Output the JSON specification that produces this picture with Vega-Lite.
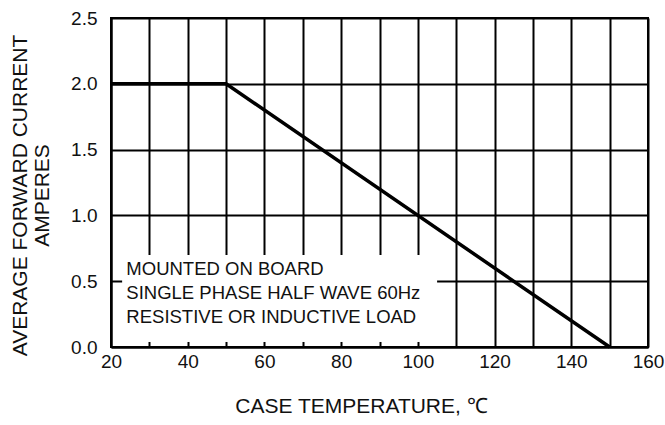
{
  "$schema": "https://vega.github.io/schema/vega-lite/v6.json",
  "width": 537,
  "height": 329,
  "autosize": "none",
  "padding": {"left": 111, "top": 18, "right": 17, "bottom": 78},
  "background": "white",
  "config": {
    "font": "Liberation Sans",
    "view": {"stroke": "black", "strokeWidth": 2},
    "axis": {
      "domainColor": "black", "domainWidth": 2,
      "gridColor": "black", "gridWidth": 2, "gridOpacity": 1,
      "ticks": false, "labelFlush": false,
      "labelFont": "Liberation Sans", "labelFontSize": 19, "labelColor": "#111",
      "titleFont": "Liberation Sans", "titleFontSize": 21, "titleFontWeight": "normal", "titleColor": "#111"
    }
  },
  "data": {"values": [
    {"temp": 20, "amps": 2.0},
    {"temp": 50, "amps": 2.0},
    {"temp": 150, "amps": 0.0}
  ]},
  "layer": [
    {
      "mark": {"type": "line", "color": "black", "strokeWidth": 3.5},
      "encoding": {
        "x": {"field": "temp", "type": "quantitative",
          "scale": {"domain": [20, 160], "nice": false},
          "axis": {"values": [20,30,40,50,60,70,80,90,100,110,120,130,140,150,160],
            "labelExpr": "datum.value % 20 === 0 ? datum.label : ''",
            "labelPadding": 5, "title": "CASE TEMPERATURE, ℃", "titlePadding": 24, "titleX": 250}},
        "y": {"field": "amps", "type": "quantitative",
          "scale": {"domain": [0, 2.5], "nice": false},
          "axis": {"values": [0, 0.5, 1.0, 1.5, 2.0, 2.5], "format": ".1f",
            "labelPadding": 14,
            "title": ["AVERAGE FORWARD CURRENT", "AMPERES"], "titlePadding": 18, "titleLineHeight": 22, "titleY": 177}}
      }
    },
    {
      "mark": {"type": "rect", "fill": "white", "stroke": null},
      "encoding": {
        "x": {"datum": 23, "type": "quantitative",
          "axis": {"values": [20,30,40,50,60,70,80,90,100,110,120,130,140,150,160],
            "labelExpr": "datum.value % 20 === 0 ? datum.label : ''",
            "labelPadding": 5, "title": "CASE TEMPERATURE, ℃", "titlePadding": 24, "titleX": 250}},
        "x2": {"datum": 105},
        "y": {"datum": 0.04, "type": "quantitative",
          "axis": {"values": [0, 0.5, 1.0, 1.5, 2.0, 2.5], "format": ".1f",
            "labelPadding": 14,
            "title": ["AVERAGE FORWARD CURRENT", "AMPERES"], "titlePadding": 18, "titleLineHeight": 22, "titleY": 177}},
        "y2": {"datum": 0.7}
      }
    },
    {
      "data": {"values": [
        {"note": "MOUNTED ON BOARD", "ny": 0.593},
        {"note": "SINGLE PHASE HALF WAVE 60Hz", "ny": 0.41},
        {"note": "RESISTIVE OR INDUCTIVE LOAD", "ny": 0.228}
      ]},
      "mark": {"type": "text", "align": "left", "baseline": "middle", "fontSize": 18.5, "color": "#111", "font": "Liberation Sans"},
      "encoding": {
        "x": {"datum": 24, "type": "quantitative",
          "axis": {"values": [20,30,40,50,60,70,80,90,100,110,120,130,140,150,160],
            "labelExpr": "datum.value % 20 === 0 ? datum.label : ''",
            "labelPadding": 5, "title": "CASE TEMPERATURE, ℃", "titlePadding": 24, "titleX": 250}},
        "y": {"field": "ny", "type": "quantitative",
          "axis": {"values": [0, 0.5, 1.0, 1.5, 2.0, 2.5], "format": ".1f",
            "labelPadding": 14,
            "title": ["AVERAGE FORWARD CURRENT", "AMPERES"], "titlePadding": 18, "titleLineHeight": 22, "titleY": 177}},
        "text": {"field": "note"}
      }
    }
  ]
}
